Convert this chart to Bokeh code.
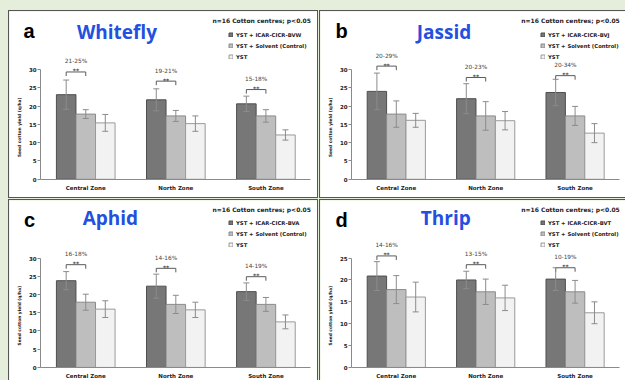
import math
from bokeh.plotting import figure
from bokeh.models import (ColumnDataSource, Range1d, FixedTicker,
                          Whisker, TeeHead, Label, Legend, LegendItem)
from bokeh.transform import dodge
from bokeh.layouts import row, column
from bokeh.core.properties import value
from bokeh.embed import file_html
from bokeh.resources import INLINE

# ---------------- data ----------------
zones = ["Central Zone", "North Zone", "South Zone"]
control_label = "YST + Solvent (Control)"
base_label = "YST"
note_text = "n=16 Cotton centres; p<0.05"
y_title = "Seed cotton yield (q/ha)"

# a  Whitefly
whitefly_bv = [23.1, 21.7, 20.6]
whitefly_bv_err = [4.0, 3.0, 2.1]
whitefly_solvent = [17.8, 17.3, 17.3]
whitefly_solvent_err = [1.2, 1.5, 1.7]
whitefly_yst = [15.4, 15.2, 12.1]
whitefly_yst_err = [2.3, 2.1, 1.4]
whitefly_bracket = [29.3, 26.8, 24.5]
whitefly_gain = ["21-25%", "19-21%", "15-18%"]

# b  Jassid
jassid_bv = [24.0, 22.0, 23.7]
jassid_bv_err = [5.0, 4.1, 3.6]
jassid_solvent = [17.8, 17.3, 17.3]
jassid_solvent_err = [3.6, 3.9, 2.6]
jassid_yst = [16.1, 16.0, 12.6]
jassid_yst_err = [1.9, 2.5, 2.6]
jassid_bracket = [30.9, 27.8, 28.3]
jassid_gain = ["20-29%", "20-23%", "20-34%"]

# c  Aphid
aphid_bv = [23.8, 22.3, 20.8]
aphid_bv_err = [2.5, 3.3, 2.4]
aphid_solvent = [17.9, 17.3, 17.3]
aphid_solvent_err = [2.2, 2.5, 1.9]
aphid_yst = [16.0, 15.8, 12.5]
aphid_yst_err = [2.3, 2.1, 1.9]
aphid_bracket = [28.2, 27.2, 24.9]
aphid_gain = ["16-18%", "14-16%", "14-19%"]

# d  Thrip
thrip_bv = [20.9, 20.0, 20.2]
thrip_bv_err = [3.3, 2.0, 2.6]
thrip_solvent = [17.8, 17.3, 17.3]
thrip_solvent_err = [3.2, 2.9, 2.6]
thrip_yst = [16.1, 15.9, 12.5]
thrip_yst_err = [3.4, 2.9, 2.5]
thrip_bracket = [25.5, 23.5, 22.8]
thrip_gain = ["14-16%", "13-15%", "10-19%"]

# ---------------- style ----------------
GREEN = "#e5eddb"
BORDER = "1px solid #555555"
C_DARK, L_DARK = "#777777", "#4f4f4f"
C_MID, L_MID = "#bebebe", "#8a8a8a"
C_LIGHT, L_LIGHT = "#f2f2f2", "#9a9a9a"
ERR = "#8c8c8c"
BRK = "#5a5a5a"
AXIS = "#8a8a8a"
SMALL = "DejaVu Sans"
AXIS_PX = 108.7      # pixels between 0 and top tick
AXIS_X = 31.0        # canvas x of the y axis line
BAR_W = 0.217
YT_SIZE = 4.4


def border(top=True, right=True, bottom=True, left=True):
    s = {"box-sizing": "content-box"}
    s["border-top"] = BORDER if top else "none"
    s["border-right"] = BORDER if right else "none"
    s["border-bottom"] = BORDER if bottom else "none"
    s["border-left"] = BORDER if left else "none"
    return s


def make_panel(letter, pest, bv_label, bv, bv_err, sol, sol_err, yst, yst_err,
               bracket, gain, ymax, lay):
    cw, ch, mbb = lay["w"], lay["h"], lay["mbb"]
    n = len(zones)
    catw = (lay["plot_right"] - AXIS_X) / n
    fh = ch - mbb                 # canvas y of the zero line
    ppu = AXIS_PX / ymax
    x_start = -AXIS_X / catw
    x_end = x_start + cw / catw

    def dx(cx):
        return (cx - AXIS_X) / catw

    def dy(cy):
        return (fh - cy) / ppu

    p = figure(width=cw, height=ch,
               x_range=Range1d(x_start, x_end), y_range=Range1d(dy(ch), dy(0)),
               output_backend="svg", toolbar_location=None, tools="",
               min_border=0, min_border_left=0, min_border_right=0,
               min_border_top=0, min_border_bottom=0,
               background_fill_color="white", border_fill_color="white",
               outline_line_color=None, styles=lay["styles"])
    p.xgrid.visible = False
    p.ygrid.visible = False

    tick = 4.0 / ppu
    src = ColumnDataSource(dict(
        zone=zones, xc=[i + 0.5 for i in range(n)],
        bv=bv, bv_lo=[v - e for v, e in zip(bv, bv_err)], bv_hi=[v + e for v, e in zip(bv, bv_err)],
        sol=sol, sol_lo=[v - e for v, e in zip(sol, sol_err)], sol_hi=[v + e for v, e in zip(sol, sol_err)],
        yst=yst, yst_lo=[v - e for v, e in zip(yst, yst_err)], yst_hi=[v + e for v, e in zip(yst, yst_err)],
        br=bracket, br_tick=[b - tick for b in bracket],
        gain=gain, stars=["**"] * n,
    ))

    specs = [("bv", -BAR_W, C_DARK, L_DARK), ("sol", 0.0, C_MID, L_MID), ("yst", BAR_W, C_LIGHT, L_LIGHT)]
    rends = []
    for key, off, fc, lc in specs:
        r = p.vbar(x=dodge("xc", off), top=key, bottom=0, width=BAR_W,
                   source=src, fill_color=fc, line_color=lc, line_width=1)
        rends.append(r)
        wh = Whisker(source=src, base=dodge("xc", off),
                     upper=key + "_hi", lower=key + "_lo",
                     line_color=ERR, line_width=1, level="overlay",
                     upper_head=TeeHead(size=6, line_color=ERR, line_width=1),
                     lower_head=TeeHead(size=6, line_color=ERR, line_width=1))
        p.add_layout(wh)

    xl = dodge("xc", -BAR_W)
    xr = dodge("xc", 0.0)
    xm = dodge("xc", -BAR_W / 2)
    p.segment(x0=xl, y0="br", x1=xr, y1="br", source=src, line_color=BRK, line_width=1)
    p.segment(x0=xl, y0="br", x1=xl, y1="br_tick", source=src, line_color=BRK, line_width=1)
    p.segment(x0=xr, y0="br", x1=xr, y1="br_tick", source=src, line_color=BRK, line_width=1)
    p.text(x=xm, y="br", text="stars", source=src, y_offset=-1.0,
           text_align="center", text_baseline="middle",
           text_font=value(SMALL), text_font_size="6px", text_font_style="bold",
           text_color="#444444")
    p.text(x=xm, y="br", text="gain", source=src, y_offset=-10.5,
           text_align="center", text_baseline="middle",
           text_font=value(SMALL), text_font_size="5.8px", text_color="#444444")

    # y axis, pinned at x = 0 inside the frame
    ya = p.yaxis[0]
    ya.fixed_location = 0
    ya.ticker = FixedTicker(ticks=list(range(0, ymax + 1, 5)))
    ya.bounds = (0, ymax)
    ya.axis_line_color = AXIS
    ya.major_tick_line_color = AXIS
    ya.major_tick_out = 3
    ya.major_tick_in = 0
    ya.minor_tick_out = 0
    ya.minor_tick_in = 0
    ya.major_label_standoff = 1
    ya.major_label_text_font = SMALL
    ya.major_label_text_font_size = "5.5px"
    ya.major_label_text_font_style = "bold"
    ya.major_label_text_color = "#222222"

    # x axis pinned at y = 0, zone names at the category centres
    xa = p.xaxis[0]
    xa.fixed_location = 0
    xa.ticker = FixedTicker(ticks=[i + 0.5 for i in range(n)])
    xa.major_label_overrides = {i + 0.5: z for i, z in enumerate(zones)}
    xa.bounds = (0, n)
    xa.axis_line_color = AXIS
    xa.major_tick_out = 0
    xa.major_tick_in = 0
    xa.minor_tick_out = 0
    xa.minor_tick_in = 0
    xa.major_label_standoff = 6
    xa.major_label_text_font = SMALL
    xa.major_label_text_font_size = "5.5px"
    xa.major_label_text_font_style = "bold"
    xa.major_label_text_color = "#222222"

    # y axis title
    p.add_layout(Label(x=dx(10.3), y=dy(114.5), text=y_title, angle=math.pi / 2,
                       text_font=SMALL, text_font_size=f"{YT_SIZE}px",
                       text_font_style="bold", text_color="#222222",
                       text_align="center", text_baseline="middle"))

    # panel letter
    lx, lcy = lay["letter"]
    p.add_layout(Label(x=dx(lx), y=dy(lcy), text=letter, text_font="Liberation Sans",
                       text_font_size="20px", text_font_style="bold", text_color="black",
                       text_align="left", text_baseline="middle"))

    # pest title
    tx, tcy = lay["pest"]
    p.add_layout(Label(x=dx(tx), y=dy(tcy), text=pest, text_font="Open Sans",
                       text_font_size="19px", text_font_style="bold", text_color="#2350e0",
                       text_align="left", text_baseline="middle"))
    p.add_layout(Label(x=dx(lay["plot_right"]), y=dy(lay["note_y"]), text=note_text, text_font=SMALL,
                       text_font_size="6px", text_font_style="bold", text_color="#222222",
                       text_align="right", text_baseline="middle"))

    legend = Legend(items=[LegendItem(label=bv_label, renderers=[rends[0]]),
                           LegendItem(label=control_label, renderers=[rends[1]]),
                           LegendItem(label=base_label, renderers=[rends[2]])],
                    location=(lay["leg_x"], ch - 47),
                    glyph_width=5, glyph_height=5, label_standoff=3,
                    label_height=7, label_width=10, spacing=4, padding=0, margin=0,
                    border_line_alpha=0, background_fill_alpha=0,
                    label_text_font=SMALL, label_text_font_size="5.3px",
                    label_text_font_style="bold", label_text_color="#222222")
    p.add_layout(legend)
    return p


# canvas-pixel layout of each panel (letter / title given as text centre lines)
lay_a = dict(w=308, h=186, mbb=20, plot_right=299.5, styles=border(True, True, True, True),
             letter=(14, 18.8), pest=(67, 19.9), leg_x=219, note_y=8.5)
lay_b = dict(w=305, h=186, mbb=20, plot_right=298.3, styles=border(True, False, True, True),
             letter=(15, 18.8), pest=(96, 20.1), leg_x=220, note_y=8.5)
lay_c = dict(w=308, h=180, mbb=14, plot_right=299.5, styles=border(True, True, False, True),
             letter=(14.3, 19.8), pest=(72.7, 17.3), leg_x=219, note_y=9.3)
lay_d = dict(w=305, h=180, mbb=14, plot_right=298.3, styles=border(True, False, False, True),
             letter=(15, 19.8), pest=(100, 17.3), leg_x=220, note_y=9.3)

pa = make_panel("a", "Whitefly", "YST + ICAR-CICR-BVW", whitefly_bv, whitefly_bv_err,
                whitefly_solvent, whitefly_solvent_err, whitefly_yst, whitefly_yst_err,
                whitefly_bracket, whitefly_gain, 30, lay_a)
pb = make_panel("b", "Jassid", "YST + ICAR-CICR-BVJ", jassid_bv, jassid_bv_err,
                jassid_solvent, jassid_solvent_err, jassid_yst, jassid_yst_err,
                jassid_bracket, jassid_gain, 30, lay_b)
pc = make_panel("c", "Aphid", "YST + ICAR-CICR-BVA", aphid_bv, aphid_bv_err,
                aphid_solvent, aphid_solvent_err, aphid_yst, aphid_yst_err,
                aphid_bracket, aphid_gain, 30, lay_c)
pd = make_panel("d", "Thrip", "YST + ICAR-CICR-BVT", thrip_bv, thrip_bv_err,
                thrip_solvent, thrip_solvent_err, thrip_yst, thrip_yst_err,
                thrip_bracket, thrip_gain, 25, lay_d)

root = column(row(pa, pb, spacing=1), row(pc, pd, spacing=1), spacing=1, margin=(10, 0, 0, 8))

page_template = ("{% block preamble %}<style>html,body{margin:0 !important;padding:0 !important;"
                 "background:" + GREEN + " !important;overflow:hidden !important;}</style>{% endblock %}")
html = file_html(root, INLINE, title="Seed cotton yield", template=page_template)
open("out.html", "w").write(html)
